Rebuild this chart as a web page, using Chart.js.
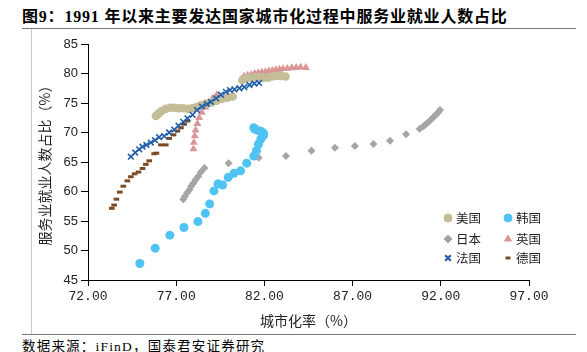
<!DOCTYPE html>
<html>
<head>
<meta charset="utf-8">
<script src="https://cdn.jsdelivr.net/npm/chart.js@4.4.0/dist/chart.umd.min.js"></script>
<style>
  body { margin: 0; width: 587px; height: 352px; background: #fff; position: relative; overflow: hidden; }
  #title { position: absolute; left: 22px; top: 3px; font: bold 16px "Liberation Serif", "Noto Sans CJK SC"; letter-spacing: 0.8px; color: #000; white-space: nowrap; }
  #source { position: absolute; left: 22px; top: 335px; font: 13.5px "Liberation Serif", "Noto Sans CJK SC"; letter-spacing: 1.2px; color: #000; white-space: nowrap; }
  .hline { position: absolute; height: 1px; background: #777; }
  .vline { position: absolute; width: 1px; background: #ccc; }
  #wrap { position: absolute; left: 0; top: 0; width: 587px; height: 352px; }
</style>
</head>
<body>
<div id="title">图9：1991 年以来主要发达国家城市化过程中服务业就业人数占比</div>
<div class="hline" style="left:22px; top:28px; width:554px;"></div>
<div class="vline" style="left:31px; top:29px; height:305px;"></div>
<div class="hline" style="left:22px; top:334px; width:554px;"></div>
<div id="source">数据来源：iFinD，国泰君安证券研究</div>
<div id="wrap"><canvas id="chart" width="587" height="352"></canvas></div>
<script>
// 刻度
var xTicks = [72, 77, 82, 87, 92, 97];
var yTicks = [45, 50, 55, 60, 65, 70, 75, 80, 85];

// 美国
var usX = [75.85, 76.0, 76.15, 76.4, 76.65, 76.9, 77.15, 77.4, 77.65, 77.9, 78.15, 78.4, 78.7, 79.0, 79.3, 79.6, 79.9, 80.2, 80.75, 80.95, 81.2, 81.45, 81.7, 81.95, 82.2, 82.45, 82.7, 82.95, 83.2];
var usY = [72.8, 73.2, 73.6, 74.0, 74.2, 74.2, 74.1, 74.1, 74.0, 74.1, 74.3, 74.6, 74.9, 75.1, 75.4, 75.7, 75.9, 76.1, 78.9, 79.2, 79.3, 79.35, 79.4, 79.3, 79.3, 79.5, 79.6, 79.6, 79.5];
// 韩国
var krX = [74.94, 75.81, 76.64, 77.44, 78.23, 78.65, 78.9, 79.14, 79.37, 79.63, 79.95, 80.28, 80.65, 81.0, 81.4, 81.55, 81.66, 81.8, 81.95, 81.95, 81.8, 81.6, 81.45, 81.4];
var krY = [47.8, 50.4, 52.6, 53.9, 54.9, 56.3, 57.9, 60.1, 61.3, 61.1, 62.4, 63.1, 63.5, 64.8, 66.0, 66.9, 68.0, 68.9, 69.5, 69.9, 70.2, 70.4, 70.6, 70.8];
// 日本
var jpX = [77.4, 77.5, 77.62, 77.75, 77.85, 77.97, 78.1, 78.25, 78.4, 78.6, 79.97, 81.68, 83.22, 84.67, 86.0, 87.13, 88.18, 89.12, 90.03, 90.8, 91.0, 91.15, 91.3, 91.45, 91.55, 91.65, 91.75, 91.85, 91.95];
var jpY = [58.7, 59.2, 59.8, 60.3, 60.9, 61.4, 62.0, 62.6, 63.3, 64.0, 64.8, 65.7, 66.0, 66.9, 67.4, 67.7, 68.05, 68.6, 69.7, 70.6, 71.0, 71.4, 71.8, 72.2, 72.5, 72.8, 73.1, 73.4, 73.8];
// 英国
var ukX = [77.98, 78.0, 78.05, 78.1, 78.2, 78.3, 78.45, 78.65, 78.85, 79.05, 79.3, 80.7, 80.85, 81.05, 81.25, 81.45, 81.65, 81.85, 82.05, 82.25, 82.45, 82.65, 82.85, 83.05, 83.3, 83.55, 83.8, 84.05, 84.35];
var ukY = [67.2, 68.3, 69.4, 70.4, 71.5, 72.5, 73.4, 74.3, 75.0, 75.7, 76.4, 79.0, 79.5, 79.7, 79.8, 80.0, 80.1, 80.2, 80.3, 80.4, 80.5, 80.6, 80.7, 80.8, 80.85, 80.95, 81.0, 81.05, 81.0];
// 法国
var frX = [74.43, 74.67, 74.9, 75.09, 75.31, 75.56, 75.8, 76.03, 76.32, 76.6, 76.89, 77.13, 77.4, 77.64, 77.93, 78.18, 78.46, 78.74, 78.97, 79.26, 79.54, 79.82, 80.05, 80.3, 80.58, 80.86, 81.15, 81.43, 81.7];
var frY = [65.9, 66.6, 67.15, 67.6, 67.9, 68.3, 68.7, 69.2, 69.4, 70.0, 70.5, 71.15, 71.8, 72.4, 73.0, 73.8, 74.4, 74.8, 75.2, 75.8, 76.4, 76.9, 77.2, 77.3, 77.5, 77.7, 78.05, 78.3, 78.4];
// 德国
var deX = [73.35, 73.48, 73.61, 73.8, 74.0, 74.23, 74.43, 74.65, 74.86, 75.09, 75.28, 75.47, 75.75, 75.88, 76.13, 76.41, 76.6, 76.85, 77.07, 77.27, 77.45, 77.64];
var deY = [57.15, 57.7, 58.7, 59.9, 60.9, 61.8, 62.5, 63.0, 63.3, 63.9, 64.6, 65.2, 66.4, 66.5, 67.9, 67.9, 69.0, 69.6, 70.25, 70.8, 71.4, 71.95];

function pts(xs, ys) {
    return xs.map(function(x, i) { return {x: x, y: ys[i]}; });
}

var datasets = [
    {label: '美国', data: pts(usX, usY), pointStyle: 'circle', pointRadius: 4.3, backgroundColor: '#C4BD97', borderColor: '#C4BD97', borderWidth: 0, order: 2},
    {label: '韩国', data: pts(krX, krY), pointStyle: 'circle', pointRadius: 4.5, backgroundColor: '#4FC3F2', borderColor: '#4FC3F2', borderWidth: 0, order: 4},
    {label: '日本', data: pts(jpX, jpY), pointStyle: 'rectRot', pointRadius: 4, backgroundColor: '#A5A5A5', borderColor: '#A5A5A5', borderWidth: 0, order: 5},
    {label: '英国', data: pts(ukX, ukY), pointStyle: 'triangle', pointRadius: 4.6, backgroundColor: '#DA9694', borderColor: '#DA9694', borderWidth: 0, order: 3},
    {label: '法国', data: pts(frX, frY), pointStyle: 'crossRot', pointRadius: 4, backgroundColor: '#1F5CA8', borderColor: '#1F5CA8', borderWidth: 1.6, order: 0},
    {label: '德国', data: pts(deX, deY), pointStyle: 'line', pointRadius: 2.8, backgroundColor: '#7D4A24', borderColor: '#7D4A24', borderWidth: 3, order: 1}
];

// 图例：两列三行，画在绘图区右下
var legendPlugin = {
    id: 'myLegend',
    afterDraw: function(chart) {
        var ctx = chart.ctx;
        var cols = [448, 508];
        var rows = [218, 239, 258];
        ctx.save();
        chart.data.datasets.forEach(function(ds, i) {
            var x = cols[i % 2], y = rows[Math.floor(i / 2)];
            ctx.fillStyle = ds.backgroundColor;
            ctx.strokeStyle = ds.borderColor;
            ctx.lineWidth = ds.pointStyle === 'crossRot' ? 2 : ds.borderWidth;
            var r = ds.pointStyle === 'line' ? 2.5 : 4;
            Chart.helpers.drawPoint(ctx, {pointStyle: ds.pointStyle, radius: r, rotation: 0, borderWidth: ctx.lineWidth}, x, y);
            ctx.fillStyle = '#222';
            ctx.font = '12.5px "Noto Sans CJK SC"';
            ctx.textBaseline = 'middle';
            ctx.fillText(ds.label, x + 8, y);
        });
        ctx.restore();
    }
};

new Chart(document.getElementById('chart').getContext('2d'), {
    type: 'scatter',
    data: {datasets: datasets},
    options: {
        responsive: false,
        animation: false,
        layout: {padding: {left: 35, right: 58, top: 44, bottom: 22}},
        plugins: {legend: {display: false}, tooltip: {enabled: false}},
        scales: {
            x: {
                type: 'linear', min: 72, max: 97,
                afterBuildTicks: function(s) { s.ticks = xTicks.map(function(v) { return {value: v}; }); },
                afterFit: function(s) { s.height = 50; },
                ticks: {callback: function(v) { return v.toFixed(2); }, font: {family: 'Liberation Mono', size: 13}, color: '#222', padding: 3, maxRotation: 0},
                grid: {drawOnChartArea: false, tickLength: 6, color: '#000'},
                border: {color: '#000', width: 1},
                title: {display: true, text: '城市化率（%）', font: {family: 'Noto Sans CJK SC', size: 14}, color: '#222', padding: {top: 0, bottom: 1}}
            },
            y: {
                type: 'linear', min: 45, max: 85,
                afterBuildTicks: function(s) { s.ticks = yTicks.map(function(v) { return {value: v}; }); },
                afterFit: function(s) { s.width = 53; },
                ticks: {font: {family: 'Liberation Sans', size: 13}, color: '#222', padding: 3},
                grid: {drawOnChartArea: false, tickLength: 7, color: '#000'},
                border: {color: '#000', width: 1},
                title: {display: true, text: '服务业就业人数占比（%）', font: {family: 'Noto Sans CJK SC', size: 14}, color: '#222', padding: {top: 1, bottom: 0}}
            }
        }
    },
    plugins: [legendPlugin]
});
</script>
</body>
</html>
